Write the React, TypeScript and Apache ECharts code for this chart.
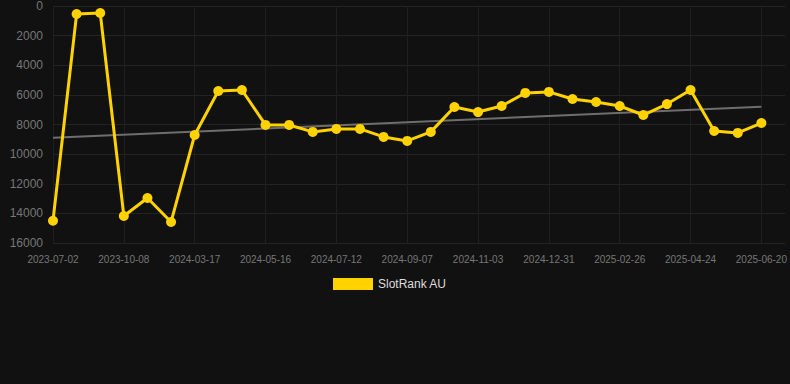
import React, { useEffect, useRef } from "react";
import * as echarts from "echarts";

const categories: string[] = [
  "2023-07-02", "2023-08-04", "2023-09-06", "2023-10-08", "2023-12-01", "2024-01-24",
  "2024-03-17", "2024-04-06", "2024-04-26", "2024-05-16", "2024-06-04", "2024-06-23",
  "2024-07-12", "2024-07-31", "2024-08-19", "2024-09-07", "2024-09-26", "2024-10-15",
  "2024-11-03", "2024-11-22", "2024-12-11", "2024-12-31", "2025-01-19", "2025-02-07",
  "2025-02-26", "2025-03-17", "2025-04-05", "2025-04-24", "2025-05-13", "2025-06-01",
  "2025-06-20", "2025-07-09",
];

const rankValues: number[] = [
  14500, 540, 470, 14180, 12960, 14580, 8710, 5740, 5670, 8030, 8030, 8500,
  8300, 8300, 8840, 9110, 8500, 6820, 7160, 6750, 5870, 5800, 6280, 6480,
  6750, 7360, 6620, 5670, 8440, 8570, 7900,
];

const trendStart = 8900;
const trendEnd = 6800;

const yTicks = { min: 0, max: 16000, interval: 2000 };

export default function App() {
  const ref = useRef<HTMLDivElement>(null);
  useEffect(() => {
    if (!ref.current) return;
    const chart = echarts.init(ref.current, null, { renderer: "svg" });
    const lastIdx = rankValues.length - 1;
    chart.setOption({
      animation: false,
      backgroundColor: "#111111",
      grid: { left: 53, right: 5, top: 6, bottom: 141, containLabel: false },
      legend: {
        data: ["SlotRank AU"],
        top: 273,
        left: 328,
        icon: "rect",
        itemWidth: 40,
        itemHeight: 12,
        textStyle: { color: "#dddddd", fontSize: 12, fontFamily: "Arial, Liberation Sans, sans-serif" },
      },
      xAxis: {
        type: "category",
        data: categories,
        boundaryGap: false,
        axisLine: { show: false },
        axisTick: { show: false },
        axisLabel: {
          color: "#777777",
          fontSize: 10,
          margin: 11,
          interval: 2,
          fontFamily: "Arial, Liberation Sans, sans-serif",
          formatter: (v: string, i: number) => (i === categories.length - 1 ? "" : v),
        },
        splitLine: { show: true, interval: 2, lineStyle: { color: "#1f1f1f", width: 1 } },
      },
      yAxis: {
        type: "value",
        inverse: true,
        min: yTicks.min,
        max: yTicks.max,
        interval: yTicks.interval,
        axisLine: { show: false },
        axisTick: { show: false },
        axisLabel: {
          color: "#777777",
          fontSize: 12,
          margin: 10,
          fontFamily: "Arial, Liberation Sans, sans-serif",
          formatter: (v: number) => String(v),
        },
        splitLine: { show: true, lineStyle: { color: "#232323", width: 1 } },
      },
      series: [
        {
          name: "Trend",
          type: "line",
          data: [
            [0, trendStart],
            [lastIdx, trendEnd],
          ],
          symbol: "none",
          lineStyle: { color: "#6e6e6e", width: 2 },
          silent: true,
          z: 1,
        },
        {
          name: "SlotRank AU",
          type: "line",
          data: rankValues,
          symbol: "circle",
          symbolSize: 10,
          itemStyle: { color: "#FFD200" },
          lineStyle: { color: "#FFD200", width: 3 },
          z: 2,
        },
      ],
    });
    return () => chart.dispose();
  }, []);
  return (
    <div
      ref={ref}
      style={{ position: "fixed", left: 0, top: 0, width: 790, height: 384 }}
    />
  );
}
